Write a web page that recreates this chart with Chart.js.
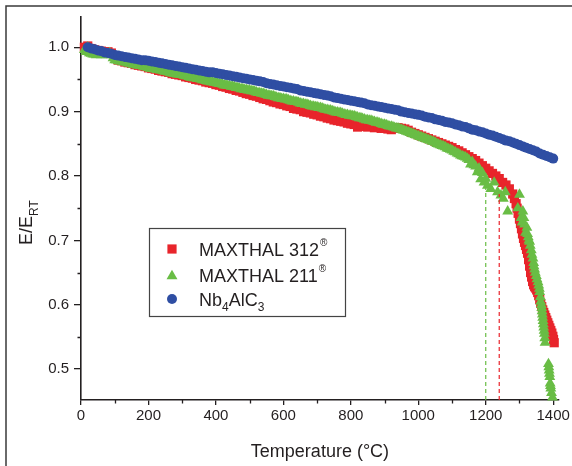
<!DOCTYPE html>
<html>
<head>
<meta charset="utf-8">
<script src="https://cdn.jsdelivr.net/npm/chart.js@4/dist/chart.umd.min.js"></script>
<style>
  html, body { margin: 0; padding: 0; background: #fff; overflow: hidden; }
  canvas { display: block; }
</style>
</head>
<body>
<canvas id="modulusChart" width="572" height="466"></canvas>
<script>
// Nb4AlC3: normalised Young's modulus E/E_RT vs temperature
const tempNb = [
  20, 30, 40, 50, 60, 70, 80, 90, 100,
  110, 120, 130, 140, 150, 160, 170, 180, 190, 200,
  210, 220, 230, 240, 250, 260, 270, 280, 290, 300,
  310, 320, 330, 340, 350, 360, 370, 380, 390, 400,
  410, 420, 430, 440, 450, 460, 470, 480, 490, 500,
  510, 520, 530, 540, 550, 560, 570, 580, 590, 600,
  610, 620, 630, 640, 650, 660, 670, 680, 690, 700,
  710, 720, 730, 740, 750, 760, 770, 780, 790, 800,
  810, 820, 830, 840, 850, 860, 870, 880, 890, 900,
  910, 920, 930, 940, 950, 960, 970, 980, 990, 1000,
  1010, 1020, 1030, 1040, 1050, 1060, 1070, 1080, 1090, 1100,
  1110, 1120, 1130, 1140, 1150, 1160, 1170, 1180, 1190, 1200,
  1210, 1220, 1230, 1240, 1250, 1260, 1270, 1280, 1290, 1300,
  1310, 1320, 1330, 1340, 1350, 1360, 1370, 1380, 1390, 1400
];
const modNb = [
  1.000, 0.998, 0.997, 0.995, 0.994, 0.992, 0.991, 0.990, 0.988,
  0.987, 0.986, 0.985, 0.984, 0.983, 0.982, 0.981, 0.980, 0.980, 0.979,
  0.978, 0.977, 0.976, 0.975, 0.974, 0.973, 0.972, 0.971, 0.970, 0.969,
  0.968, 0.967, 0.966, 0.965, 0.964, 0.963, 0.962, 0.961, 0.961, 0.960,
  0.959, 0.958, 0.957, 0.956, 0.955, 0.954, 0.953, 0.952, 0.951, 0.950,
  0.949, 0.948, 0.947, 0.946, 0.944, 0.943, 0.942, 0.941, 0.940, 0.939,
  0.938, 0.937, 0.936, 0.935, 0.933, 0.932, 0.931, 0.930, 0.929, 0.928,
  0.927, 0.926, 0.925, 0.924, 0.922, 0.921, 0.920, 0.919, 0.918, 0.917,
  0.916, 0.915, 0.914, 0.913, 0.911, 0.910, 0.909, 0.908, 0.907, 0.906,
  0.905, 0.904, 0.903, 0.902, 0.900, 0.899, 0.898, 0.897, 0.896, 0.895,
  0.894, 0.892, 0.891, 0.890, 0.888, 0.887, 0.886, 0.884, 0.883, 0.882,
  0.880, 0.879, 0.877, 0.876, 0.874, 0.872, 0.871, 0.869, 0.868, 0.866,
  0.864, 0.863, 0.861, 0.859, 0.857, 0.855, 0.854, 0.852, 0.850, 0.848,
  0.846, 0.844, 0.842, 0.840, 0.838, 0.835, 0.833, 0.831, 0.829, 0.827
];

// MAXTHAL 312
const tempM312 = [
  10, 20, 30, 40, 50, 60, 70, 80, 90, 100,
  110, 120, 130, 140, 150, 160, 170, 180, 190, 200,
  210, 220, 230, 240, 250, 260, 270, 280, 290, 300,
  310, 320, 330, 340, 350, 360, 370, 380, 390, 400,
  410, 420, 430, 440, 450, 460, 470, 480, 490, 500,
  510, 520, 530, 540, 550, 560, 570, 580, 590, 600,
  610, 620, 630, 640, 650, 660, 670, 680, 690, 700,
  710, 720, 730, 740, 750, 760, 770, 780, 790, 800,
  810, 820, 830, 840, 850, 860, 870, 880, 890, 900,
  910, 920, 930, 940, 950, 960, 970, 980, 990, 1000,
  1010, 1020, 1030, 1040, 1050, 1060, 1070, 1080, 1090, 1100,
  1110, 1120, 1130, 1140, 1150, 1160, 1170, 1180, 1190, 1200,
  1210, 1220, 1230, 1240, 1250, 1260, 1270, 1280, 1285, 1290,
  1293, 1296, 1300, 1303, 1306, 1309, 1312, 1315, 1318, 1321,
  1324, 1327, 1330, 1333, 1336, 1339, 1342, 1345, 1348, 1351,
  1354, 1357, 1360, 1363, 1366, 1369, 1372, 1375, 1378, 1381,
  1384, 1387, 1390, 1393, 1396, 1399, 1401, 1403
];
const modM312 = [
  1.000, 1.002, 0.998, 0.996, 0.995, 0.994, 0.993, 0.993, 0.991, 0.986,
  0.980, 0.979, 0.977, 0.976, 0.975, 0.973, 0.972, 0.971, 0.970, 0.968,
  0.967, 0.966, 0.964, 0.963, 0.962, 0.961, 0.959, 0.958, 0.957, 0.956,
  0.954, 0.953, 0.952, 0.950, 0.949, 0.948, 0.946, 0.945, 0.944, 0.942,
  0.941, 0.939, 0.938, 0.936, 0.935, 0.933, 0.932, 0.930, 0.928, 0.927,
  0.925, 0.924, 0.922, 0.920, 0.919, 0.917, 0.915, 0.914, 0.912, 0.911,
  0.909, 0.908, 0.905, 0.904, 0.903, 0.900, 0.899, 0.898, 0.896, 0.895,
  0.893, 0.892, 0.890, 0.889, 0.887, 0.886, 0.885, 0.884, 0.882, 0.881,
  0.880, 0.876, 0.878, 0.877, 0.876, 0.878, 0.875, 0.876, 0.874, 0.874,
  0.873, 0.872, 0.874, 0.875, 0.874, 0.873, 0.871, 0.868, 0.866, 0.864,
  0.862, 0.860, 0.858, 0.856, 0.854, 0.852, 0.850, 0.848, 0.846, 0.844,
  0.841, 0.839, 0.836, 0.833, 0.830, 0.827, 0.824, 0.820, 0.816, 0.812,
  0.808, 0.804, 0.800, 0.796, 0.790, 0.786, 0.780, 0.772, 0.765, 0.757,
  0.750, 0.742, 0.733, 0.726, 0.718, 0.710, 0.703, 0.697, 0.692, 0.686,
  0.680, 0.670, 0.660, 0.650, 0.643, 0.636, 0.631, 0.628, 0.626, 0.623,
  0.619, 0.614, 0.608, 0.602, 0.597, 0.592, 0.588, 0.584, 0.580, 0.576,
  0.572, 0.568, 0.564, 0.560, 0.556, 0.551, 0.546, 0.541
];

// MAXTHAL 211
const tempM211 = [
  10, 15, 20, 25, 30, 35, 40, 45, 50, 55, 60, 65, 70, 75, 80, 85, 90, 95,
  100, 105, 110, 115, 120, 125, 130, 135, 140, 145,
  150, 155, 160, 165, 170, 175, 180, 185, 190, 195,
  200, 205, 210, 215, 220, 225, 230, 235, 240, 245,
  250, 255, 260, 265, 270, 275, 280, 285, 290, 295,
  300, 305, 310, 315, 320, 325, 330, 335, 340, 345,
  350, 355, 360, 365, 370, 375, 380, 385, 390, 395,
  400, 405, 410, 415, 420, 425, 430, 435, 440, 445,
  450, 455, 460, 465, 470, 475, 480, 485, 490, 495,
  500, 505, 510, 515, 520, 525, 530, 535, 540, 545,
  550, 555, 560, 565, 570, 575, 580, 585, 590, 595,
  600, 605, 610, 615, 620, 625, 630, 635, 640, 645,
  650, 655, 660, 665, 670, 675, 680, 685, 690, 695,
  700, 705, 710, 715, 720, 725, 730, 735, 740, 745,
  750, 755, 760, 765, 770, 775, 780, 785, 790, 795,
  800, 805, 810, 815, 820, 825, 830, 835, 840, 845,
  850, 855, 860, 865, 870, 875, 880, 885, 890, 895,
  900, 905, 910, 915, 920, 925, 930, 935, 940, 945,
  950, 955, 960, 965, 970, 975, 980, 985, 990, 995,
  1000, 1005, 1010, 1015, 1020, 1025, 1030, 1035, 1040, 1045,
  1050, 1055, 1060, 1065, 1070, 1075, 1080, 1085, 1090, 1095,
  1100, 1105, 1110, 1115, 1120, 1125, 1130, 1135, 1140, 1145,
  1150, 1155, 1160, 1165, 1170, 1175, 1180, 1185, 1190, 1195, 1200,
  1205, 1215, 1225, 1235, 1245, 1252, 1258, 1265, 1295, 1300,
  1305, 1308, 1310, 1313, 1315, 1318, 1322, 1324, 1326, 1328,
  1330, 1332, 1335, 1337, 1340, 1342, 1343, 1345, 1347, 1350,
  1352, 1355, 1357, 1359, 1360, 1362, 1363, 1365, 1366, 1367,
  1368, 1369, 1370, 1371, 1372, 1373, 1374, 1375, 1376, 1386,
  1387, 1388, 1389, 1390, 1391, 1392, 1393, 1395, 1398
];
const modM211 = [
  0.996, 0.993, 1.000, 0.991, 0.990, 0.989, 0.989, 0.988, 0.989, 0.989, 0.988, 0.989, 0.989, 0.988, 0.990, 0.991, 0.988, 0.983,
  0.980, 0.980, 0.979, 0.978, 0.978, 0.977, 0.977, 0.976, 0.975, 0.975,
  0.974, 0.973, 0.973, 0.972, 0.972, 0.971, 0.971, 0.970, 0.969, 0.969,
  0.968, 0.967, 0.967, 0.966, 0.966, 0.965, 0.965, 0.964, 0.964, 0.963,
  0.962, 0.962, 0.961, 0.960, 0.960, 0.959, 0.959, 0.958, 0.958, 0.957,
  0.957, 0.956, 0.955, 0.955, 0.954, 0.953, 0.953, 0.952, 0.952, 0.951,
  0.951, 0.950, 0.949, 0.949, 0.948, 0.947, 0.947, 0.946, 0.946, 0.945,
  0.945, 0.944, 0.943, 0.943, 0.942, 0.941, 0.941, 0.940, 0.940, 0.939,
  0.939, 0.938, 0.937, 0.937, 0.936, 0.935, 0.935, 0.934, 0.934, 0.933,
  0.933, 0.932, 0.932, 0.931, 0.930, 0.929, 0.929, 0.928, 0.928, 0.927,
  0.926, 0.925, 0.925, 0.924, 0.924, 0.923, 0.922, 0.921, 0.921, 0.920,
  0.920, 0.919, 0.919, 0.918, 0.917, 0.916, 0.916, 0.915, 0.915, 0.914,
  0.913, 0.912, 0.912, 0.911, 0.911, 0.910, 0.909, 0.908, 0.908, 0.907,
  0.907, 0.906, 0.906, 0.905, 0.904, 0.903, 0.903, 0.902, 0.902, 0.901,
  0.900, 0.899, 0.899, 0.898, 0.898, 0.897, 0.896, 0.895, 0.895, 0.894,
  0.894, 0.893, 0.893, 0.892, 0.891, 0.890, 0.890, 0.889, 0.888, 0.887,
  0.887, 0.886, 0.886, 0.885, 0.884, 0.883, 0.883, 0.882, 0.881, 0.880,
  0.880, 0.879, 0.878, 0.877, 0.877, 0.876, 0.875, 0.874, 0.874, 0.873,
  0.872, 0.871, 0.870, 0.869, 0.868, 0.867, 0.866, 0.865, 0.864, 0.863,
  0.862, 0.861, 0.860, 0.859, 0.858, 0.857, 0.856, 0.855, 0.854, 0.853,
  0.852, 0.850, 0.849, 0.848, 0.847, 0.846, 0.845, 0.843, 0.842, 0.841,
  0.840, 0.838, 0.837, 0.835, 0.834, 0.832, 0.831, 0.830, 0.829, 0.827,
  0.825, 0.818, 0.822, 0.817, 0.815, 0.806, 0.812, 0.795, 0.805, 0.790, 0.796,
  0.785, 0.780, 0.790, 0.775, 0.770, 0.765, 0.775, 0.745, 0.750, 0.771,
  0.735, 0.728, 0.745, 0.735, 0.725, 0.712, 0.720, 0.710, 0.705, 0.700,
  0.698, 0.692, 0.685, 0.678, 0.672, 0.665, 0.660, 0.655, 0.650, 0.645,
  0.640, 0.635, 0.630, 0.625, 0.620, 0.612, 0.605, 0.600, 0.595, 0.590,
  0.585, 0.580, 0.575, 0.570, 0.565, 0.560, 0.555, 0.548, 0.541, 0.508,
  0.503, 0.498, 0.493, 0.488, 0.478, 0.474, 0.470, 0.463, 0.456
];

// onset of the steep drop: [temperature, E/E_RT at the curve]
const onset211 = [1200, 0.787];
const onset312 = [1240, 0.772];

const xTicks = [0, 200, 400, 600, 800, 1000, 1200, 1400];
const xMinorTicks = [100, 300, 500, 700, 900, 1100, 1300];
const yTicks = [0.5, 0.6, 0.7, 0.8, 0.9, 1.0];
const yMinorTicks = [0.55, 0.65, 0.75, 0.85, 0.95];
const xRange = [0, 1417];
const yRange = [0.452, 1.047];

const FONT = '"Liberation Sans", Arial, Helvetica, sans-serif';
const INK = '#231f20';
const RED = '#e8242b';
const GREEN = '#69bd45';
const BLUE = '#2f4ea3';

const toPoints = (xs, ys) => xs.map((x, i) => ({ x: x, y: ys[i] }));

const legendRows = [
  { style: 'rect', color: RED, radius: 6.5, parts: [['MAXTHAL 312', 0], ['®', 1]] },
  { style: 'triangle', color: GREEN, radius: 6.3, parts: [['MAXTHAL 211', 0], ['®', 1]] },
  { style: 'circle', color: BLUE, radius: 5, parts: [['Nb', 0], ['4', -1], ['AlC', 0], ['3', -1]] }
];

// frame, minor ticks, y title with subscript and the boxed legend
const decorations = {
  id: 'decorations',
  beforeDraw(chart) {
    const ctx = chart.ctx;
    ctx.save();
    ctx.fillStyle = '#fff';
    ctx.fillRect(0, 0, chart.width, chart.height);
    ctx.strokeStyle = '#3a3a3a';
    ctx.lineWidth = 1.5;
    ctx.beginPath();
    ctx.moveTo(6, chart.height);
    ctx.lineTo(6, 6);
    ctx.lineTo(chart.width, 6);
    ctx.stroke();
    ctx.restore();
  },
  afterDraw(chart) {
    const ctx = chart.ctx;
    const xs = chart.scales.x, ys = chart.scales.y;
    ctx.save();
    ctx.strokeStyle = INK;
    ctx.lineWidth = 1.3;
    ctx.beginPath();
    yMinorTicks.forEach(v => {
      const py = Math.round(ys.getPixelForValue(v)) + 0.5;
      ctx.moveTo(ys.right - 3.5, py);
      ctx.lineTo(ys.right, py);
    });
    xMinorTicks.forEach(v => {
      const px = Math.round(xs.getPixelForValue(v)) + 0.5;
      ctx.moveTo(px, xs.top);
      ctx.lineTo(px, xs.top + 3.5);
    });
    ctx.stroke();

    // y axis title: E/E with subscript RT
    ctx.fillStyle = INK;
    ctx.translate(31.5, 245);
    ctx.rotate(-Math.PI / 2);
    ctx.textBaseline = 'alphabetic';
    ctx.textAlign = 'left';
    ctx.font = '18px ' + FONT;
    ctx.fillText('E/E', 0, 0);
    const w = ctx.measureText('E/E').width;
    ctx.font = '12px ' + FONT;
    ctx.fillText('RT', w, 6);
    ctx.restore();

    // legend box
    ctx.save();
    ctx.strokeStyle = '#444';
    ctx.lineWidth = 1.2;
    ctx.strokeRect(149.5, 228.5, 196, 88);
    const rowY = [249, 275, 299];
    legendRows.forEach((row, i) => {
      ctx.fillStyle = row.color;
      Chart.helpers.drawPoint(ctx, { pointStyle: row.style, radius: row.radius, borderWidth: 0, rotation: 0 }, 172, rowY[i] + (row.style === 'triangle' ? 1 : 0));
      let x = 199;
      const base = rowY[i] + 6.5;
      ctx.fillStyle = INK;
      row.parts.forEach(([t, shift]) => {
        if (shift === 0) {
          ctx.font = '18px ' + FONT;
          ctx.fillText(t, x, base);
        } else if (shift > 0) {
          ctx.font = '10px ' + FONT;
          ctx.fillText(t, x + 1, base - 10);
        } else {
          ctx.font = '12px ' + FONT;
          ctx.fillText(t, x, base + 5);
        }
        x += ctx.measureText(t).width;
      });
    });
    ctx.restore();
  }
};

new Chart(document.getElementById('modulusChart'), {
  type: 'scatter',
  data: {
    datasets: [
      {
        label: 'onset 211',
        type: 'line',
        data: [{ x: onset211[0], y: yRange[0] }, { x: onset211[0], y: onset211[1] }],
        borderColor: GREEN,
        borderWidth: 1.2,
        borderDash: [4, 3],
        pointRadius: 0,
        order: 0
      },
      {
        label: 'onset 312',
        type: 'line',
        data: [{ x: onset312[0], y: yRange[0] }, { x: onset312[0], y: onset312[1] }],
        borderColor: RED,
        borderWidth: 1.2,
        borderDash: [4, 3],
        pointRadius: 0,
        order: 0
      },
      {
        label: 'Nb4AlC3',
        data: toPoints(tempNb, modNb),
        pointStyle: 'circle',
        pointRadius: 5,
        backgroundColor: BLUE,
        borderWidth: 0,
        order: 1,
        clip: false
      },
      {
        label: 'MAXTHAL 211',
        data: toPoints(tempM211, modM211),
        pointStyle: 'triangle',
        pointRadius: 6.3,
        backgroundColor: GREEN,
        borderWidth: 0,
        order: 2,
        clip: false
      },
      {
        label: 'MAXTHAL 312',
        data: toPoints(tempM312, modM312),
        pointStyle: 'rect',
        pointRadius: 6.5,
        backgroundColor: RED,
        borderWidth: 0,
        order: 3,
        clip: false
      }
    ]
  },
  options: {
    responsive: false,
    animation: false,
    devicePixelRatio: 1,
    layout: { padding: { left: 0, top: 17, right: 10, bottom: 0 } },
    plugins: { legend: { display: false }, tooltip: { enabled: false } },
    scales: {
      x: {
        type: 'linear',
        min: xRange[0],
        max: xRange[1],
        afterBuildTicks: s => { s.ticks = xTicks.map(v => ({ value: v })); },
        afterFit: s => { s.height = 66; },
        grid: { display: true, drawOnChartArea: false, drawTicks: true, tickLength: 5, color: INK, lineWidth: 1.3 },
        border: { display: true, color: INK, width: 1.6 },
        ticks: { color: INK, font: { family: FONT, size: 15 }, padding: 2, maxRotation: 0, autoSkip: false, callback: v => String(v) },
        title: { display: true, text: 'Temperature (°C)', color: INK, font: { family: FONT, size: 18 }, padding: { top: 0, bottom: 3 } }
      },
      y: {
        type: 'linear',
        min: yRange[0],
        max: yRange[1],
        afterBuildTicks: s => { s.ticks = yTicks.map(v => ({ value: v })); },
        afterFit: s => { s.width = 81; },
        grid: { display: true, drawOnChartArea: false, drawTicks: true, tickLength: 7, color: INK, lineWidth: 1.3 },
        border: { display: true, color: INK, width: 1.6 },
        ticks: { color: INK, font: { family: FONT, size: 15 }, padding: 5, callback: v => v.toFixed(1) }
      }
    }
  },
  plugins: [decorations]
});
</script>
</body>
</html>
